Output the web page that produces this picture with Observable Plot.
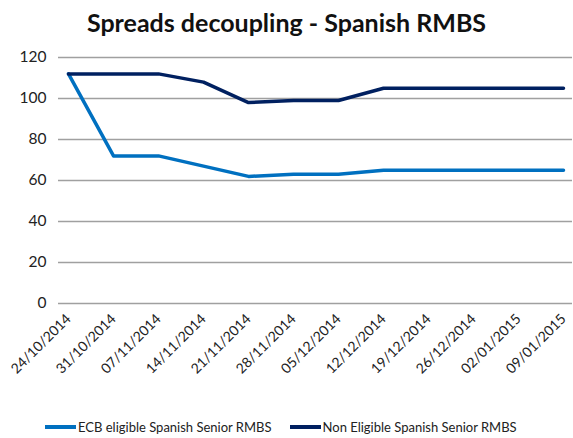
<!DOCTYPE html>
<html>
<head>
<meta charset="utf-8">
<script src="https://cdn.jsdelivr.net/npm/d3@7"></script>
<script src="https://cdn.jsdelivr.net/npm/@observablehq/plot@0.6"></script>
<style>
  html, body { margin: 0; padding: 0; background: #fff; }
  body { width: 573px; height: 438px; overflow: hidden; font-family: Lato, "Open Sans", sans-serif; }
  #title { height: 45px; line-height: 44px; text-align: center; font-size: 25px; font-weight: bold; color: #111; }
  #legend { display: flex; gap: 18px; padding-left: 45px; height: 23px; align-items: center; font-size: 13px; color: #222; }
  .item { display: flex; align-items: center; }
  .sw { width: 31px; height: 4px; margin-right: 2px; }
</style>
</head>
<body>
<div id="title">Spreads decoupling - Spanish RMBS</div>
<div id="chart"></div>
<div id="legend"></div>
<script>
const dates = ["24/10/2014","31/10/2014","07/11/2014","14/11/2014","21/11/2014","28/11/2014","05/12/2014","12/12/2014","19/12/2014","26/12/2014","02/01/2015","09/01/2015"];
const ecbEligible = [112, 72, 72, 67, 62, 63, 63, 65, 65, 65, 65, 65];
const nonEligible = [112, 112, 112, 108, 98, 99, 99, 105, 105, 105, 105, 105];
const yTicks = [0, 20, 40, 60, 80, 100, 120];
const seriesNames = ["ECB eligible Spanish Senior RMBS", "Non Eligible Spanish Senior RMBS"];
const seriesColors = ["#0070C0", "#002060"];

const rows = [];
dates.forEach((d, i) => {
  rows.push({date: d, value: ecbEligible[i], series: seriesNames[0]});
  rows.push({date: d, value: nonEligible[i], series: seriesNames[1]});
});

const chart = Plot.plot({
  width: 573,
  height: 370,
  marginTop: 12,
  marginLeft: 58,
  marginRight: 1,
  marginBottom: 112,
  style: {fontFamily: "Lato, 'Open Sans', sans-serif", fontSize: "13px", color: "#222", background: "#fff"},
  x: {type: "point", domain: dates, padding: 0.09, label: null},
  y: {domain: [0, 120], ticks: yTicks, label: null},
  color: {domain: seriesNames, range: seriesColors},
  marks: [
    Plot.ruleY(yTicks, {stroke: "#a0a0a0", strokeWidth: 1.6}),
    Plot.axisY({ticks: yTicks, tickSize: 0, tickPadding: 12, fontSize: 15.5, label: null}),
    Plot.axisX({tickSize: 0, tickRotate: -45, tickPadding: 13, fontSize: 14, label: null}),
    Plot.line(rows, {x: "date", y: "value", z: "series", stroke: "series", strokeWidth: 3.5})
  ]
});
document.getElementById("chart").appendChild(chart);

const legend = document.getElementById("legend");
seriesNames.forEach((n, i) => {
  const it = document.createElement("div");
  it.className = "item";
  const sw = document.createElement("div");
  sw.className = "sw";
  sw.style.background = seriesColors[i];
  const t = document.createElement("span");
  t.textContent = n;
  it.appendChild(sw); it.appendChild(t);
  legend.appendChild(it);
});
</script>
</body>
</html>
